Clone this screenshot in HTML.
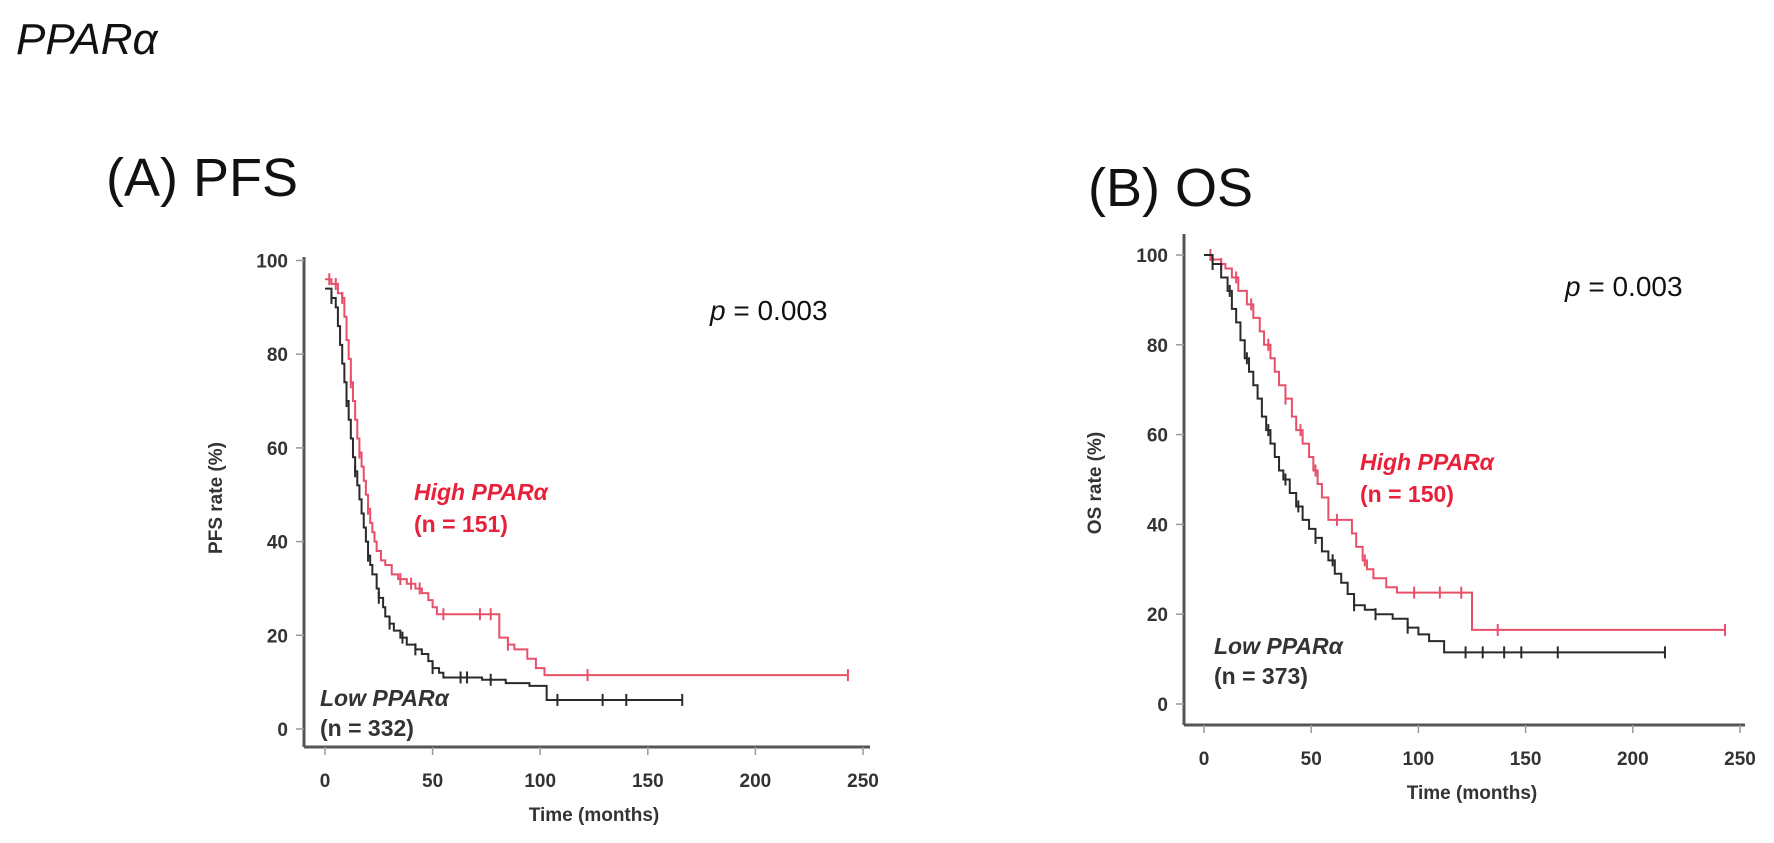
<!DOCTYPE html>
<html><head><meta charset="utf-8">
<style>
html,body{margin:0;padding:0;background:#fff;}
svg{display:block;font-family:"Liberation Sans",Arial,sans-serif;}
.tick{font-size:19px;font-weight:bold;fill:#333;}
.atitle{font-size:19px;font-weight:bold;fill:#333;}
</style></head>
<body>
<svg id="fig" width="1774" height="843" viewBox="0 0 1774 843">
<text x="16" y="54" font-size="44" font-style="italic" fill="#111">PPARα</text>
<text x="106" y="196" font-size="54" fill="#111">(A) PFS</text>
<text x="1088" y="206" font-size="54" fill="#111">(B) OS</text>
<g id="pa"></g>
<g id="pb"></g>
</svg>
<script>
const xTicks = [0, 50, 100, 150, 200, 250];
const yTicks = [0, 20, 40, 60, 80, 100];
// Panel A (PFS)
const pfsHighT = [0, 3, 6, 8, 9, 10, 11, 12, 13, 14, 15, 16, 17, 18, 19, 20, 21, 22, 23, 24, 26, 28, 31, 34, 38, 42, 45, 48, 50, 52, 81, 85, 88, 94, 98, 102, 243];
const pfsHighV = [96, 95, 93, 92, 88, 83, 79, 74, 70, 66, 62, 59, 56, 53, 50, 47, 44, 42, 40, 38, 36, 35, 33, 32, 31, 30, 29, 27.5, 26, 24.5, 19.5, 18, 17, 15, 13, 11.5, 11.5];
const pfsLowT = [0, 3, 5, 6, 7, 8, 9, 10, 11, 12, 13, 14, 15, 16, 17, 18, 19, 20, 21, 22, 24, 25, 27, 28, 30, 32, 35, 38, 42, 45, 48, 50, 53, 55, 73, 84, 95, 103, 166];
const pfsLowV = [94, 92, 90, 86, 82, 78, 74, 70, 66, 62, 58, 55, 52, 49, 46, 43, 40, 37, 35, 33, 30, 28, 26, 24, 22.5, 21, 19.5, 18, 17, 16, 14.5, 13, 12, 11, 10.5, 9.8, 9.2, 6.2, 6.2];
const pfsHighCens = [2, 5, 8, 12, 16, 20, 35, 40, 44, 55, 72, 77, 85, 122, 243];
const pfsLowCens = [3, 10, 14, 20, 25, 30, 36, 42, 50, 63, 66, 77, 108, 129, 140, 166];
// Panel B (OS)
const osHighT = [0, 4, 8, 10, 13, 16, 20, 23, 26, 28, 31, 33, 35, 38, 41, 43, 46, 49, 51, 53, 55, 58, 66, 69, 71, 74, 76, 79, 85, 90, 125, 243];
const osHighV = [100, 99, 98, 97, 95, 92, 89, 86, 83, 80, 77, 74, 71, 68, 64, 61, 58, 55, 52, 49, 46, 41, 41, 38, 35, 32, 30, 28, 26, 24.8, 16.5, 16.5];
const osLowT = [0, 4, 8, 11, 13, 15, 17, 19, 21, 23, 25, 27, 29, 31, 33, 35, 37, 40, 43, 46, 49, 52, 55, 58, 61, 64, 67, 70, 75, 80, 88, 95, 100, 105, 112, 215];
const osLowV = [100, 98, 95, 92, 88, 85, 81, 77, 74, 71, 68, 64, 61, 58, 55, 52, 50, 47, 44, 41, 39, 37, 34, 32, 29, 27, 24.5, 22, 21, 20, 19, 17, 15.5, 14, 11.5, 11.5];
const osHighCens = [3, 8, 15, 22, 30, 38, 45, 52, 62, 75, 98, 110, 120, 137, 243];
const osLowCens = [4, 12, 20, 30, 38, 44, 52, 60, 70, 80, 95, 122, 130, 140, 148, 165, 215];

const NS = 'http://www.w3.org/2000/svg';
function mk(parent, tag, attrs) {
  const e = document.createElementNS(NS, tag);
  for (const k in attrs) e.setAttribute(k, attrs[k]);
  parent.appendChild(e);
  return e;
}
function stepVal(T, V, t) { let v = V[0]; for (let i = 0; i < T.length; i++) if (T[i] <= t) v = V[i]; return v; }

function panel(g, cfg) {
  const sx = t => cfg.x0 + t * cfg.kx;
  const sy = v => cfg.y0 - v * cfg.ky;
  const axY = mk(g, 'line', {x1: cfg.ax, y1: cfg.axTop, x2: cfg.ax, y2: cfg.axBot, stroke: '#555', 'stroke-width': 3});
  
  
  const axX = mk(g, 'line', {x1: cfg.ax, y1: cfg.axBot, x2: cfg.axRight, y2: cfg.axBot, stroke: '#555', 'stroke-width': 3});
  
  
  yTicks.forEach(v => {
    mk(g, 'line', {x1: cfg.ax - 8, y1: sy(v), x2: cfg.ax, y2: sy(v), stroke: '#999', 'stroke-width': 1.5});
    const t = mk(g, 'text', {x: cfg.ax - 16, y: sy(v) + 7, 'text-anchor': 'end', class: 'tick'});
    t.textContent = v;
    
    
  });
  xTicks.forEach(v => {
    mk(g, 'line', {x1: sx(v), y1: cfg.axBot, x2: sx(v), y2: cfg.axBot + 8, stroke: '#999', 'stroke-width': 1.5});
    const t = mk(g, 'text', {x: sx(v), y: cfg.axBot + 40, 'text-anchor': 'middle', class: 'tick'});
    t.textContent = v;
    
    
  });
  const xt = mk(g, 'text', {x: cfg.xtX, y: cfg.axBot + 74, 'text-anchor': 'middle', class: 'atitle'});
  xt.textContent = 'Time (months)';
  
  
  const yt = mk(g, 'text', {x: 0, y: 0, 'text-anchor': 'middle', class: 'atitle', transform: `translate(${cfg.ytX},${cfg.ytY}) rotate(-90)`});
  yt.textContent = cfg.ytitle;
  
  

  function curve(T, V, C, color, name) {
    let d = `M${sx(T[0])},${sy(V[0])}`;
    for (let i = 1; i < T.length; i++) d += ` H${sx(T[i])} V${sy(V[i])}`;
    const p = mk(g, 'path', {d: d, fill: 'none', stroke: color, 'stroke-width': 2});
    
    
    C.forEach(t => {
      const v = stepVal(T, V, t);
      const c = mk(g, 'line', {x1: sx(t), y1: sy(v) - 6, x2: sx(t), y2: sy(v) + 6, stroke: color, 'stroke-width': 2});
      
      
    });
  }
  curve(cfg.hT, cfg.hV, cfg.hC, '#e8506a', 'high-curve');
  curve(cfg.lT, cfg.lV, cfg.lC, '#2a2a2a', 'low-curve');

  const pv = mk(g, 'text', {x: cfg.pX, y: cfg.pY, 'font-size': 28, fill: '#111'});
  pv.innerHTML = '<tspan font-style="italic">p</tspan> = 0.003';
  
  
  const hl = mk(g, 'text', {x: cfg.hX, y: cfg.hY, 'font-size': 23, 'font-weight': 'bold', fill: '#e8203a'});
  hl.innerHTML = '<tspan font-style="italic">High PPARα</tspan><tspan x="' + cfg.hX + '" dy="32">(n = ' + cfg.hn + ')</tspan>';
  
  
  const ll = mk(g, 'text', {x: cfg.lX, y: cfg.lY, 'font-size': 23, 'font-weight': 'bold', fill: '#333'});
  ll.innerHTML = '<tspan font-style="italic">Low PPARα</tspan><tspan x="' + cfg.lX + '" dy="30">(n = ' + cfg.ln + ')</tspan>';
  
  
}

panel(document.getElementById('pa'), {
  x0: 325, kx: 2.152, y0: 729, ky: 4.685, ax: 304, axTop: 257, axBot: 747, axRight: 870,
  xtX: 594, ytX: 222, ytY: 498, ytitle: 'PFS rate (%)',
  hT: pfsHighT, hV: pfsHighV, hC: pfsHighCens, lT: pfsLowT, lV: pfsLowV, lC: pfsLowCens,
  pX: 710, pY: 320, hX: 414, hY: 500, hn: 151, lX: 320, lY: 706, ln: 332
});
panel(document.getElementById('pb'), {
  x0: 1204, kx: 2.144, y0: 704, ky: 4.49, ax: 1184, axTop: 234, axBot: 725, axRight: 1745,
  xtX: 1472, ytX: 1101, ytY: 483, ytitle: 'OS rate (%)',
  hT: osHighT, hV: osHighV, hC: osHighCens, lT: osLowT, lV: osLowV, lC: osLowCens,
  pX: 1565, pY: 296, hX: 1360, hY: 470, hn: 150, lX: 1214, lY: 654, ln: 373
});
</script>
</body></html>
